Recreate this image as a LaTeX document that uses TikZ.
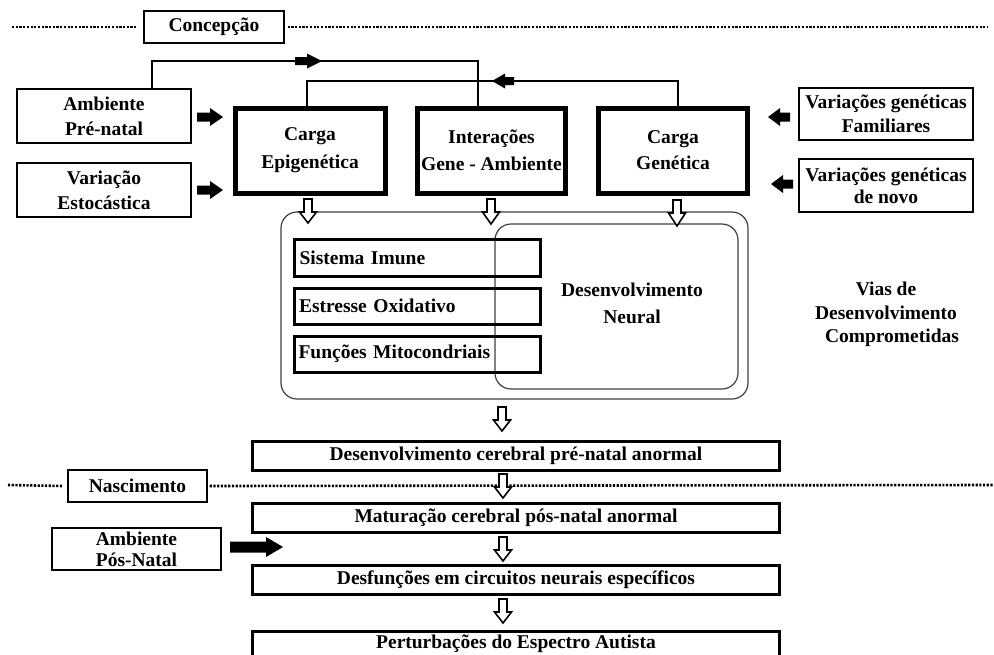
\documentclass[tikz,border=0pt]{standalone}
\usepackage{fontspec}
\setmainfont{Liberation Serif}
\usetikzlibrary{calc}
\begin{document}
\begin{tikzpicture}[x=1pt,y=-1pt]
\tikzset{
 lbl/.style={font=\bfseries\fontsize{19.5}{24}\selectfont, align=center, inner sep=0pt},
 thinbox/.style={lbl, draw=black, line width=1.3pt},
 thickbox/.style={lbl, draw=black, line width=5pt},
 midbox/.style={lbl, draw=black, line width=3pt},
 roundbox/.style={draw=black!75, line width=1.2pt, rounded corners=16pt, inner sep=0pt},
 conn/.style={draw=black, line width=1.2pt},
 dotline/.style={line width=2.6pt, dash pattern=on 2.2pt off 1.5pt},
 pics/hollowdown/.style 2 args={code={\draw[fill=white,line width=1.6pt,line join=miter] (-4,0) -- (4,0) -- (4,#1) -- (8.5,#1) -- (0,#2) -- (-8.5,#1) -- (-4,#1) -- cycle;}},
 pics/fatarrow/.style n args={4}{code={\fill (0,-#2) -- (#1,-#2) -- (#1,-#4) -- ({#1+#3},0) -- (#1,#4) -- (#1,#2) -- (0,#2) -- cycle;}},
}
\clip (0,0) rectangle (994,654);
\fill[white] (0,0) rectangle (994,654);

% conception line
\node[thinbox, minimum width=140pt, minimum height=32pt] (conc) at (214,27) {Concepção};
\draw[dotline] (12,27) -- ([xshift=-7pt]conc.west);
\draw[dotline] ([xshift=3pt]conc.east) -- (987,27);

% input boxes
\node[thinbox, minimum width=174pt, minimum height=54pt, font=\bfseries\fontsize{19.5}{25}\selectfont] (ambpre) at (104,116) {Ambiente\\Pré-natal};
\node[thinbox, minimum width=174pt, minimum height=54pt, font=\bfseries\fontsize{19.5}{25}\selectfont] (varest) at (104,190) {Variação\\Estocástica};
\node[thinbox, minimum width=174pt, minimum height=52pt, font=\bfseries\fontsize{19.5}{24}\selectfont] (vgfam) at (886,114) {Variações genéticas\\Familiares};
\node[thinbox, minimum width=174pt, minimum height=53pt, font=\bfseries\fontsize{19.5}{22}\selectfont] (vgnov) at (886,185.5) {Variações genéticas\\de novo};

% load boxes
\node[thickbox, minimum width=150pt, minimum height=85pt, font=\bfseries\fontsize{19.5}{28}\selectfont] (cepi) at (310,150.5) {Carga\\Epigenética};
\node[thickbox, minimum width=148pt, minimum height=85pt, font=\bfseries\fontsize{19.5}{27}\selectfont] (inter) at (491.5,150.5) {Interações\\Gene - Ambiente};
\node[thickbox, minimum width=149pt, minimum height=85pt, font=\bfseries\fontsize{19.5}{26}\selectfont] (cgen) at (673,150.5) {Carga\\Genética};

% feedback lines
\coordinate (u1) at (152,61);
\coordinate (u2) at (478,61);
\coordinate (u3) at (307,81);
\coordinate (u4) at (678,81);
\draw[conn] (ambpre.north -| u1) -- (u1) -- (u2) -- (inter.north -| u2);
\draw[conn] (cgen.north -| u4) -- (u4) -- (u3) -- (cepi.north -| u3);
\pic at (295,61) {fatarrow={12}{4}{15}{7.5}};
\pic[rotate=180] at (514,81) {fatarrow={9}{4}{13}{7.5}};

% black input arrows
\pic at (197,117) {fatarrow={13}{4.5}{13}{9}};
\pic at (197,190) {fatarrow={13}{4.5}{13}{9}};
\pic[rotate=180] at (790,117) {fatarrow={10}{4.5}{12}{9}};
\pic[rotate=180] at (793,184) {fatarrow={10}{4.5}{12}{9}};

% pathways
\node[roundbox, minimum width=467pt, minimum height=187pt] (outer) at (514.5,305.5) {};
\node[roundbox, minimum width=243pt, minimum height=165pt] (inner) at (616.5,306.5) {};
\node[lbl, font=\bfseries\fontsize{19.5}{27}\selectfont] (dn) at (632,303.5) {Desenvolvimento\\Neural};
\node[midbox, align=left, text width=236pt, inner xsep=5pt, minimum height=37pt] (sis) at (417.5,258) {Sistema Imune};
\node[midbox, align=left, text width=237pt, inner xsep=4.5pt, minimum height=36pt] (est) at (417.5,306) {Estresse Oxidativo};
\node[midbox, align=left, text width=238pt, inner xsep=4pt, minimum height=36pt] (func) at (417.5,354) {Funções Mitocondriais};
\node[lbl, font=\bfseries\fontsize{19.5}{23.5}\selectfont] (vias) at (886,314.5) {Vias de\\Desenvolvimento\\\hspace*{12pt}Comprometidas};

\pic at (308,199) {hollowdown={13}{24}};
\pic at (491,199) {hollowdown={13}{25}};
\pic at (677,200) {hollowdown={13}{26}};

% lower chain
\node[midbox, minimum width=527pt, minimum height=29pt] (desnat) at (516,456) {Desenvolvimento cerebral pré-natal anormal};
\node[midbox, minimum width=527pt, minimum height=29pt] (matur) at (516,517.5) {Maturação cerebral pós-natal anormal};
\node[midbox, minimum width=527pt, minimum height=29pt] (desf) at (516,579.5) {Desfunções em circuitos neurais específicos};
\node[midbox, minimum width=527pt, text height=17pt, text depth=25pt, anchor=north] (pert) at (516,629.5) {Perturbações do Espectro Autista};

\node[thinbox, minimum width=139pt, minimum height=32pt] (nasc) at (137.5,486) {Nascimento};
\draw[dotline] (8,485) -- ([xshift=-5pt]nasc.west);
\draw[dotline] ([xshift=2pt]nasc.east) -- (994,485);

\node[thinbox, minimum width=169pt, minimum height=42pt, font=\bfseries\fontsize{19.5}{21}\selectfont] (ambpos) at (136.5,549) {Ambiente\\Pós-Natal};
\pic at (230,547) {fatarrow={36}{5.5}{17}{10}};

\pic at (502,407) {hollowdown={13}{24}};
\pic at (503,474) {hollowdown={13}{24}};
\pic at (503,537) {hollowdown={13}{24}};
\pic at (503,599) {hollowdown={13}{24}};
\end{tikzpicture}
\end{document}
